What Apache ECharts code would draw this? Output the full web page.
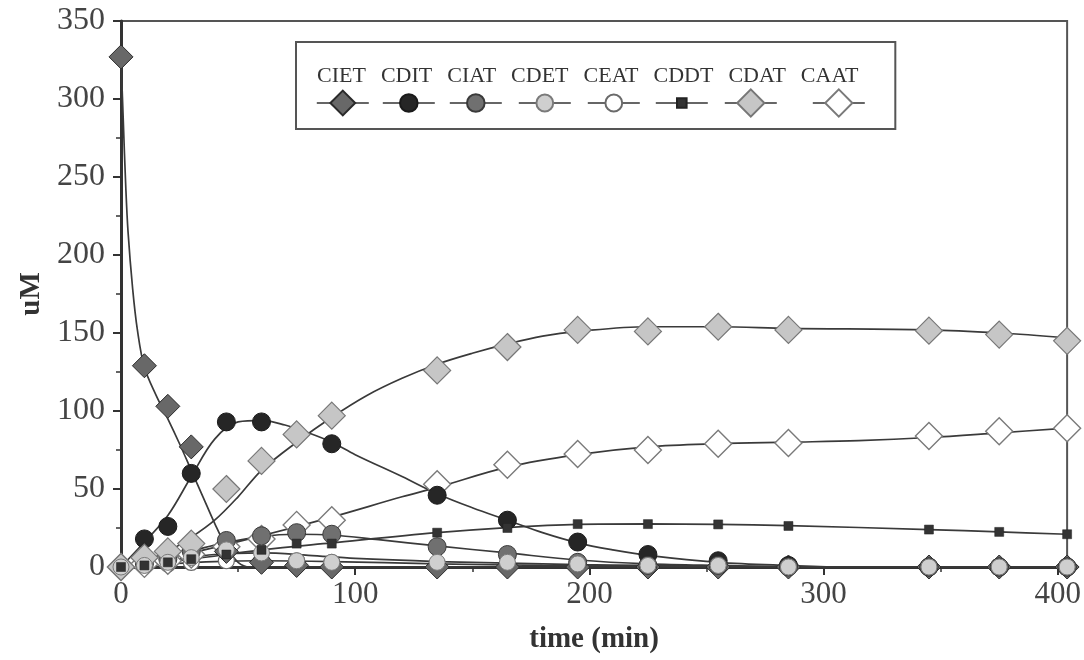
<!DOCTYPE html>
<html><head><meta charset="utf-8">
<script src="https://cdn.jsdelivr.net/npm/echarts/dist/echarts.min.js"></script>
<style>html,body{margin:0;padding:0;background:#fff}#c{width:1084px;height:660px}</style>
</head><body><div id="c"></div>
<script>
// ---- sampled data (markers) ----
const TIME = [0,10,20,30,45,60,75,90,135,165,195,225,255,285,345,375,404];
const CIET = [327,129,103,77,10,3,1,0,0,0,0,0,0,0,0,0,0];
const CDIT = [0,18,26,60,93,93,null,79,46,30,16,8,4,1,0,0,0];
const CIAT = [0,2,5,10,17,20,22,21,13,8,3,1,1,0,0,0,0];
const CDET = [0,1,3,6,11,9,4,3,3,3,2,1,1,0,0,0,0];
const CEAT = [0,1,2,3,4,4,4,3,2,1,0.5,0,0,0,0,0,0];
const CDDT = [0,1,3,5,8,11,15,15,22,25,27.5,27.5,27.3,26.3,24,22.5,21];
const CDAT = [0,6,10,15,50,68,85,97,126,141,152,151,154,152,151.5,149,145];
const CAAT = [0,2,4,8,13,18,27,30,53,65.5,72.5,75,79,79.5,84,87,89];

// ---- fitted model curves ----
const CIET_FIT_T = [0,1,2,3,5,7,10,15,20,25,30,35,40,45,50,55,404];
const CIET_FIT_V = [327,285,245,215,178,152,128,110,95,79,62,45,28,13,3,0,0];
const CDIT_FIT_T = [0,10,20,30,40,50,60,70,80,90,100,120,135,150,165,180,195,210,225,255,285,310,404];
const CDIT_FIT_V = [0,16,33,58,82,93,94,91,86,80,72,58,47,38,30,22,15.5,11,7.5,3,1,0,0];
const CIAT_FIT_T = [0,20,40,60,75,90,110,135,165,195,225,255,300,404];
const CIAT_FIT_V = [0,6,14,19.5,21,20.5,17.5,13.5,9,4.5,2,1,0,0];
const CDET_FIT_T = [0,20,40,60,80,100,135,165,195,225,260,300,404];
const CDET_FIT_V = [0,4,8,9,7.5,5.5,3.5,2.5,1.5,1,0.5,0,0];
const CEAT_FIT_T = [0,20,40,60,90,135,180,225,300,404];
const CEAT_FIT_V = [0,2,3.5,4,3.5,2,1,0.5,0,0];
const CDDT_FIT_T = [0,30,60,90,135,165,195,225,255,285,345,375,404];
const CDDT_FIT_V = [0,5,11,15.5,22,25.3,27.3,27.6,27.3,26.5,24,22.5,21];
const CDAT_FIT_T = [0,10,20,30,40,50,60,75,90,105,120,135,150,165,180,195,225,255,285,345,375,404];
const CDAT_FIT_V = [0,4,10,19,30,45,62,80,96,110,121,130,137,143,148,151,154,154,153,152,150,147];
const CAAT_FIT_T = [0,30,60,90,120,135,165,195,225,255,285,315,345,375,404];
const CAAT_FIT_V = [0,9,20,32,45,51,64,72,77,79,80,81,83,86,89];

const X_TICKS = [0,100,200,300,400];
const Y_TICKS = [0,50,100,150,200,250,300,350];
const SPECIES = ['CIET','CDIT','CIAT','CDET','CEAT','CDDT','CDAT','CAAT'];

const MARKS = {CIET,CDIT,CIAT,CDET,CEAT,CDDT,CDAT,CAAT};
const FITS = {
  CIET:[CIET_FIT_T,CIET_FIT_V], CDIT:[CDIT_FIT_T,CDIT_FIT_V], CIAT:[CIAT_FIT_T,CIAT_FIT_V],
  CDET:[CDET_FIT_T,CDET_FIT_V], CEAT:[CEAT_FIT_T,CEAT_FIT_V], CDDT:[CDDT_FIT_T,CDDT_FIT_V],
  CDAT:[CDAT_FIT_T,CDAT_FIT_V], CAAT:[CAAT_FIT_T,CAAT_FIT_V]
};
const STYLE = {
  CIET:{symbol:'diamond', size:24, fill:'#686868', border:'#2a2a2a', bw:1, z:3, lx:342, lh:31},
  CDIT:{symbol:'circle',  size:18, fill:'#262626', border:'#1a1a1a', bw:1, z:4, lx:408, lh:22},
  CIAT:{symbol:'circle',  size:18, fill:'#707070', border:'#3a3a3a', bw:1, z:4, lx:475, lh:22},
  CDET:{symbol:'circle',  size:16, fill:'#cfcfcf', border:'#7a7a7a', bw:1, z:5, lx:544, lh:21},
  CEAT:{symbol:'circle',  size:16, fill:'#ffffff', border:'#6a6a6a', bw:1.2, z:2, lx:613, lh:21},
  CDDT:{symbol:'rect',    size:9,  fill:'#333333', border:'#222222', bw:0.5, z:5, lx:681, lh:12},
  CDAT:{symbol:'diamond', size:27, fill:'#c6c6c6', border:'#777777', bw:1.2, z:4, lx:750, lh:34},
  CAAT:{symbol:'diamond', size:27, fill:'#ffffff', border:'#7a7a7a', bw:1.4, z:2, lx:838, lh:34}
};

const serif = '"Liberation Serif","DejaVu Serif",serif';
const series = [];
SPECIES.forEach(name => {
  const s = STYLE[name];
  series.push({
    type:'line', name, z:s.z,
    data: TIME.map((t,i)=>[t, MARKS[name][i]]),
    symbol:s.symbol, symbolSize:s.size, showSymbol:true, showAllSymbol:true,
    itemStyle:{color:s.fill, borderColor:s.border, borderWidth:s.bw},
    lineStyle:{width:0, opacity:0},
    emphasis:{disabled:true}, animation:false
  });
});
SPECIES.forEach(name => {
  const [ft, fv] = FITS[name];
  series.push({
    type:'line', name, z:1,
    data: ft.map((t,i)=>[t, fv[i]]),
    symbol:'none', showSymbol:false, smooth:0.35,
    lineStyle:{color:'#3a3a3a', width:1.7},
    emphasis:{disabled:true}, animation:false
  });
});

const legends = [{
  data: SPECIES, left:296, top:42, orient:'horizontal',
  icon:'none', itemWidth:0, itemHeight:24, itemGap:10,
  padding:[22,37,42,16], borderColor:'#555', borderWidth:2,
  selectedMode:false,
  textStyle:{fontFamily:serif, fontSize:22, color:'#333'}
}];
SPECIES.forEach(name => {
  const s = STYLE[name];
  legends.push({
    data:[name], left:s.lx-26, top:103-s.lh/2, padding:0,
    itemWidth:52, itemHeight:s.lh, selectedMode:false,
    formatter:()=>'',
    lineStyle:{color:'#333', width:1.6, opacity:1, type:'solid'},
    textStyle:{fontSize:1}
  });
});

const chart = echarts.init(document.getElementById('c'), null, {renderer:'canvas'});
chart.setOption({
  backgroundColor:'#fff',
  animation:false,
  grid:{left:121, right:16, top:21, bottom:93, show:true, borderColor:'#555', borderWidth:2, backgroundColor:'transparent'},
  legend: legends,
  xAxis:{
    type:'value', min:0, max:404, interval:100,
    axisLine:{show:true, onZero:false, lineStyle:{color:'#333', width:3}},
    axisTick:{show:true, length:8, lineStyle:{color:'#333', width:2}},
    minorTick:{show:true, splitNumber:2, length:5, lineStyle:{color:'#333', width:1.5}},
    splitLine:{show:false},
    axisLabel:{showMaxLabel:false, fontFamily:serif, fontSize:31, color:'#444', margin:12,
      formatter:v => X_TICKS.includes(v) ? String(v) : ''},
    name:'time (min)', nameLocation:'middle', nameGap:58,
    nameTextStyle:{fontFamily:serif, fontWeight:'bold', fontSize:29, color:'#333'}
  },
  yAxis:{
    type:'value', min:0, max:350, interval:50,
    axisLine:{show:true, lineStyle:{color:'#333', width:3}},
    axisTick:{show:true, length:8, lineStyle:{color:'#333', width:2}},
    minorTick:{show:true, splitNumber:2, length:5, lineStyle:{color:'#333', width:1.5}},
    splitLine:{show:false},
    axisLabel:{fontFamily:serif, fontSize:32, color:'#444', margin:16,
      formatter:v => Y_TICKS.includes(v) ? String(v) : ''},
    name:'uM', nameLocation:'middle', nameGap:64,
    nameTextStyle:{fontFamily:serif, fontWeight:'bold', fontSize:29, color:'#333'}
  },
  series
});
</script>
</body></html>
